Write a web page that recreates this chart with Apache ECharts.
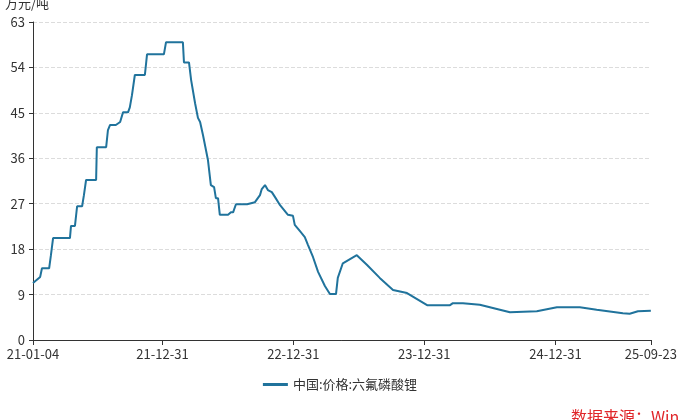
<!DOCTYPE html>
<html>
<head>
<meta charset="utf-8">
<script src="https://cdn.jsdelivr.net/npm/echarts@6/dist/echarts.min.js"></script>
<style>html,body{margin:0;background:#fff}#chart{width:680px;height:420px}</style>
</head>
<body>
<div id="chart"></div>
<script>
// 日期偏移（自 2021-01-04 起的天数）与价格（万元/吨）
let dayOffsets = [0, 20, 25, 45, 50, 56, 103, 106, 117, 123, 137, 142, 148, 176, 178, 204, 209, 215, 231, 243, 251, 265, 270, 276, 284, 312, 318, 365, 371, 418, 421, 435, 441, 446, 452, 460, 466, 474, 488, 496, 505, 510, 516, 521, 544, 552, 558, 566, 597, 619, 633, 638, 647, 655, 666, 675, 689, 711, 725, 730, 744, 758, 767, 781, 795, 814, 828, 845, 850, 864, 903, 931, 967, 1004, 1043, 1099, 1163, 1171, 1199, 1246, 1330, 1405, 1461, 1525, 1572, 1645, 1664, 1687, 1723];
let prices = [11.3, 12.5, 14.2, 14.2, 16.8, 20.2, 20.2, 22.6, 22.6, 26.5, 26.5, 28.7, 31.7, 31.7, 38.2, 38.2, 41.6, 42.6, 42.6, 43.2, 45.1, 45.1, 46.1, 48.5, 52.5, 52.5, 56.6, 56.6, 59.0, 59.0, 55.0, 55.0, 51.5, 51.5, 46.9, 44.0, 43.2, 40.6, 35.6, 30.7, 30.3, 28.1, 28.1, 24.8, 24.8, 25.3, 25.3, 26.9, 26.9, 27.3, 28.7, 29.9, 30.7, 29.7, 29.3, 28.3, 26.7, 24.8, 24.6, 22.8, 21.6, 20.4, 18.8, 16.4, 13.5, 10.7, 9.1, 9.1, 12.3, 15.2, 16.8, 14.9, 12.3, 9.9, 9.3, 6.9, 6.9, 7.3, 7.3, 7.0, 5.5, 5.7, 6.5, 6.5, 6.0, 5.3, 5.2, 5.7, 5.8];
let tickLabels = ['21-01-04', '21-12-31', '22-12-31', '23-12-31', '24-12-31', '25-09-23'];

function dibujar() {
    let chart = echarts.init(document.getElementById('chart'));
    let start = Date.UTC(2021, 0, 4);
    let total = dayOffsets[dayOffsets.length - 1];
    let fechas = [];
    for (let i = 0; i <= total; i++) {
        let d = new Date(start + i * 86400000);
        fechas.push(String(d.getUTCFullYear()).slice(2) + '-' +
            String(d.getUTCMonth() + 1).padStart(2, '0') + '-' +
            String(d.getUTCDate()).padStart(2, '0'));
    }
    let valores = fechas.map(() => null);
    dayOffsets.forEach((d, i) => { valores[d] = prices[i]; });
    let mostrar = (idx, val) => tickLabels.indexOf(val) >= 0;

    let option = {
        textStyle: { fontFamily: 'Noto Sans CJK SC' },
        title: [
            { text: '万元/吨', left: 0, top: -8, textStyle: { fontSize: 13, fontWeight: 'normal', color: '#333' } },
            { text: '数据来源：Wind', left: 566, top: 404, textStyle: { fontSize: 16, fontWeight: 'normal', color: '#e0262a' } }
        ],
        grid: { left: 33, right: 29, top: 22, bottom: 80 },
        legend: {
            bottom: 24,
            icon: 'rect',
            itemWidth: 25,
            itemHeight: 3,
            textStyle: { fontSize: 13, color: '#333' },
            data: ['中国:价格:六氟磷酸锂']
        },
        xAxis: {
            type: 'category',
            boundaryGap: false,
            data: fechas,
            axisLine: { lineStyle: { color: '#333' } },
            axisTick: { interval: mostrar, length: 5, lineStyle: { color: '#333' } },
            axisLabel: { interval: mostrar, color: '#333', fontSize: 13, margin: 8, hideOverlap: false }
        },
        yAxis: {
            type: 'value',
            min: 0,
            max: 63,
            interval: 9,
            axisLine: { show: true, lineStyle: { color: '#333' } },
            axisTick: { show: true, length: 4 },
            axisLabel: { color: '#333', fontSize: 13 },
            splitLine: { lineStyle: { type: 'dashed', color: '#dcdcdc' } }
        },
        series: [
            {
                name: '中国:价格:六氟磷酸锂',
                type: 'line',
                data: valores,
                connectNulls: true,
                showSymbol: false,
                symbol: 'none',
                lineStyle: { width: 2, color: '#20739c' },
                itemStyle: { color: '#20739c' }
            }
        ]
    };
    chart.setOption(option);
}

dibujar();
</script>
</body>
</html>
